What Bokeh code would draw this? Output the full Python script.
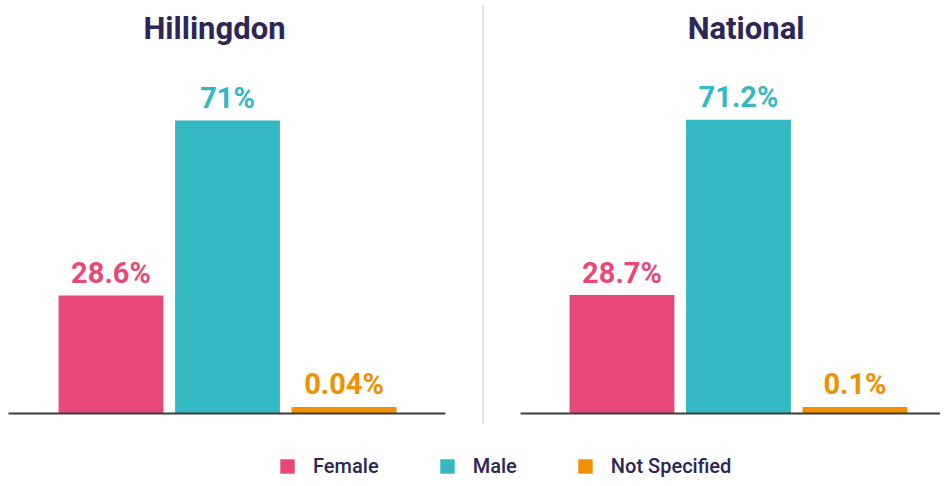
from bokeh.plotting import figure
from bokeh.models import ColumnDataSource, Range1d, Legend, LegendItem
from bokeh.core.properties import value
from bokeh.embed import file_html
from bokeh.resources import INLINE

# ---------------- data ----------------
regions = ["Hillingdon", "National"]
genders = ["Female", "Male", "Not Specified"]
hillingdon = [28.6, 71.0, 0.04]
national = [28.7, 71.2, 0.1]
hillingdon_labels = ["28.6%", "71%", "0.04%"]
national_labels = ["28.7%", "71.2%", "0.1%"]
colors = ["#e84878", "#33b8c4", "#f09000"]

# ---------------- layout / style ----------------
W, H = 940, 478
PANEL_OFFSET = 4.386          # x distance between the two panels (bar units)
X_START, X_END = -0.9485, 7.12
Y_START, Y_END = -15.75, 100.07
BAR_WIDTH = 0.9
MIN_VISIBLE = 1.6             # minimal drawn height so tiny bars stay visible
LABEL_GAP = 5.45              # gap between bar top and label centre (value units)
TITLE_Y = 93.2
NAVY = "#2d2657"
FONT = "Roboto"
FONT_MED = "Roboto Medium"

series = [hillingdon, national]
labels = [hillingdon_labels, national_labels]

xs, tops, ly, cols, texts, gnames = [], [], [], [], [], []
for ri, (vals, labs) in enumerate(zip(series, labels)):
    for gi, (v, lab) in enumerate(zip(vals, labs)):
        xs.append(gi + ri * PANEL_OFFSET)
        t = max(v, MIN_VISIBLE)
        tops.append(t)
        ly.append(t + LABEL_GAP)
        cols.append(colors[gi])
        texts.append(lab)
        gnames.append(genders[gi])

src = ColumnDataSource(dict(x=xs, top=tops, ly=ly, color=cols, text=texts, gender=gnames))

p = figure(width=W, height=H, output_backend="svg", toolbar_location=None, tools="",
           x_range=Range1d(X_START, X_END), y_range=Range1d(Y_START, Y_END),
           min_border=0, outline_line_color=None)
p.axis.visible = False
p.grid.visible = False
p.background_fill_color = "white"
p.border_fill_color = "white"

bars = p.vbar(x="x", top="top", bottom=0, width=BAR_WIDTH, fill_color="color",
              line_color=None, source=src)

# value labels
p.text(x="x", y="ly", text="text", text_color="color", source=src,
       text_align="center", text_baseline="middle",
       text_font=value(FONT), text_font_size="29px", text_font_style="bold")

# baselines
left_start = -0.88
left_end = 2 + 0.87
right_start = PANEL_OFFSET - 0.87
p.segment(x0=[left_start, right_start], x1=[left_end, X_END + 0.2], y0=[0, 0], y1=[0, 0],
          line_color="#3c3c3c", line_width=1.8)

# separator
sep_x = (left_end + right_start) / 2
p.segment(x0=[sep_x], x1=[sep_x], y0=[98.86], y1=[-2.4], line_color="#d6d6d6", line_width=1.5)

# panel titles
title_x = [0.888, PANEL_OFFSET + 1.065]
p.text(x=title_x, y=[TITLE_Y, TITLE_Y], text=regions, text_color=NAVY, text_align="center",
       text_baseline="middle", text_font=value(FONT), text_font_size="31px",
       text_font_style="bold")

# legend
items = [LegendItem(label=g, renderers=[bars], index=i) for i, g in enumerate(genders)]
legend = Legend(items=items, location=(278, 0), orientation="horizontal",
                glyph_width=18, glyph_height=18, label_standoff=17, spacing=59,
                padding=0, margin=0, border_line_color=None, background_fill_alpha=0,
                label_text_font=FONT_MED, label_text_font_size="20px",
                label_text_color=NAVY, label_height=18)
p.add_layout(legend)

open("out.html", "w").write(file_html(p, INLINE))
